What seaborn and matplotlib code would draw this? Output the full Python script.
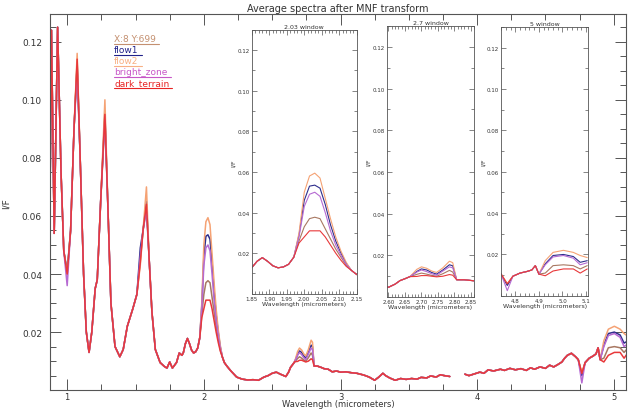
import numpy as np
import pandas as pd
import matplotlib.pyplot as plt
import seaborn as sns
from matplotlib.ticker import MultipleLocator

sns.set_style('ticks')
plt.rcParams['font.family'] = ['DejaVu Sans']

# --- series ---
series_names = ['X:8 Y:699', 'flow1', 'flow2', 'bright_zone', 'dark_terrain']
series_colors = ['#a87862', '#2e2e8c', '#f5a274', '#b66ad2', '#e8383a']
legend_colors = ['#c49070', '#22228a', '#f8b084', '#c858c8', '#e82424']

# wavelengths (micrometers) where all five average spectra coincide
wl_common = [0.876, 0.885, 0.905, 0.930, 0.955, 0.975, 1.025, 1.050, 1.095, 1.120,
             1.140, 1.160, 1.180, 1.205, 1.220, 1.245, 1.300, 1.320, 1.350, 1.385,
             1.410, 1.440, 1.480, 1.510, 1.555, 1.600, 1.620, 1.645, 1.680, 1.710,
             1.730, 1.750, 1.770, 1.800, 1.820, 1.840, 1.850, 1.865, 1.880, 1.895,
             1.910, 1.925, 1.940, 1.955, 1.970, 2.135, 2.150, 2.170, 2.200, 2.240,
             2.280, 2.320, 2.360, 2.400, 2.440, 2.470, 2.500, 2.530, 2.560, 2.600,
             2.620, 2.635, 2.650, 2.665, 2.807, 2.830, 2.860, 2.880, 2.910, 2.940,
             2.970, 3.000, 3.040, 3.080, 3.120, 3.170, 3.210, 3.250, 3.280, 3.310,
             3.330, 3.360, 3.400, 3.440, 3.480, 3.520, 3.560, 3.590, 3.630, 3.660,
             3.700, 3.730, 3.760, 3.800, 3.910, 3.940, 3.980, 4.020, 4.050, 4.080,
             4.120, 4.170, 4.200, 4.240, 4.280, 4.320, 4.360, 4.390, 4.420, 4.460,
             4.500, 4.530, 4.560, 4.590, 4.620, 4.640, 4.660, 4.690, 4.720, 4.740,
             4.790, 4.820, 4.850, 4.870, 4.885, 4.900]
if_common = [0.075, 0.124, 0.054, 0.125, 0.075, 0.048, 0.055, 0.090, 0.080, 0.040,
             0.020, 0.013, 0.020, 0.035, 0.038, 0.065, 0.060, 0.030, 0.015, 0.0115,
             0.014, 0.022, 0.028, 0.033, 0.055, 0.045, 0.027, 0.014, 0.0095, 0.0082,
             0.0076, 0.0097, 0.0076, 0.0095, 0.0128, 0.0120, 0.0129, 0.0160, 0.0178, 0.0160,
             0.0138, 0.0128, 0.0132, 0.0145, 0.0180, 0.0115, 0.0095, 0.0082, 0.0065, 0.0045,
             0.0038, 0.0035, 0.0036, 0.0034, 0.0045, 0.0050, 0.0058, 0.0062, 0.0055, 0.0047,
             0.0062, 0.0079, 0.0088, 0.0098, 0.0083, 0.0083, 0.0078, 0.0074, 0.0072, 0.0063,
             0.0066, 0.0062, 0.0063, 0.0060, 0.0058, 0.0052, 0.0045, 0.0034, 0.0045, 0.0058,
             0.0050, 0.0042, 0.0034, 0.0040, 0.0037, 0.0040, 0.0038, 0.0044, 0.0042, 0.0049,
             0.0045, 0.0053, 0.0050, 0.0047, 0.0055, 0.0050, 0.0056, 0.0062, 0.0058, 0.0070,
             0.0066, 0.0072, 0.0068, 0.0075, 0.0070, 0.0074, 0.0068, 0.0077, 0.0072, 0.0080,
             0.0075, 0.0086, 0.0080, 0.0088, 0.0097, 0.0110, 0.0120, 0.0127, 0.0115, 0.0105,
             0.0095, 0.0110, 0.0118, 0.0125, 0.0146, 0.0105]

# wavelengths where the spectra split apart (1-1.6 peaks, 2.03, 2.7 and 5 windows)
wl_split = [1.000, 1.073, 1.276, 1.535, 1.580,
            1.985, 2.000, 2.015, 2.030, 2.045, 2.060, 2.075, 2.090, 2.105, 2.120,
            2.686, 2.700, 2.716, 2.731, 2.746, 2.765, 2.785, 2.795,
            4.766, 4.927, 4.960, 5.004, 5.046, 5.075, 5.105]
if_xy = [0.040, 0.113, 0.094, 0.045, 0.063,
         0.026, 0.033, 0.037, 0.0377, 0.037, 0.032, 0.027, 0.022, 0.018, 0.014,
         0.0109, 0.0115, 0.0110, 0.0104, 0.0100, 0.0112, 0.0128, 0.0120,
         0.0055, 0.0110, 0.0146, 0.0150, 0.0146, 0.0130, 0.0146]
if_flow1 = [0.041, 0.112, 0.096, 0.049, 0.065,
            0.029, 0.046, 0.053, 0.0535, 0.052, 0.044, 0.034, 0.026, 0.020, 0.015,
            0.0123, 0.0135, 0.0130, 0.0118, 0.0110, 0.0130, 0.0155, 0.0150,
            0.0050, 0.0155, 0.0195, 0.0200, 0.0190, 0.0162, 0.0170]
if_flow2 = [0.040, 0.116, 0.100, 0.043, 0.070,
            0.030, 0.050, 0.058, 0.0594, 0.057, 0.047, 0.037, 0.028, 0.021, 0.0155,
            0.0133, 0.0145, 0.0138, 0.0125, 0.0118, 0.0140, 0.0172, 0.0165,
            0.0060, 0.0170, 0.0210, 0.0220, 0.0210, 0.0195, 0.0185]
if_bright = [0.036, 0.110, 0.093, 0.046, 0.062,
             0.028, 0.043, 0.049, 0.050, 0.048, 0.040, 0.031, 0.024, 0.019, 0.0145,
             0.0120, 0.0130, 0.0122, 0.0112, 0.0105, 0.0125, 0.0145, 0.0140,
             0.0025, 0.0150, 0.0188, 0.0195, 0.0182, 0.0150, 0.0160]
if_dark = [0.040, 0.114, 0.095, 0.044, 0.064,
           0.025, 0.028, 0.031, 0.031, 0.031, 0.028, 0.024, 0.020, 0.0165, 0.0135,
           0.0099, 0.0103, 0.0103, 0.0100, 0.0097, 0.0100, 0.0108, 0.0105,
           0.0058, 0.0097, 0.0120, 0.0130, 0.0130, 0.0110, 0.0130]

# --- long table ---
frames = []
for name, vals in zip(series_names, [if_xy, if_flow1, if_flow2, if_bright, if_dark]):
    frames.append(pd.DataFrame({'wavelength': wl_common + wl_split,
                                'IF': if_common + vals,
                                'series': name}))
df = pd.concat(frames, ignore_index=True)
# no data between 3.8 and 3.9 um -> two separate line pieces
df['segment'] = (df['wavelength'] > 3.85).astype(int)

palette = dict(zip(series_names, series_colors))


def draw_spectra(ax, lw):
    sns.lineplot(data=df, x='wavelength', y='IF', hue='series', hue_order=series_names,
                 units='segment', estimator=None, palette=palette, legend=False,
                 linewidth=lw, ax=ax)


spine_col = '#555555'
label_col = '#333333'

fig = plt.figure(figsize=(6.28, 4.10), dpi=100)

# --- main panel ---
ax = fig.add_axes([0.080, 0.046, 0.917, 0.917])
draw_spectra(ax, 1.1)
ax.set_xlim(0.876, 5.09)
ax.set_ylim(0, 0.1295)
ax.set_xticks([1, 2, 3, 4, 5])
ax.xaxis.set_minor_locator(MultipleLocator(0.25))
ax.set_yticks([0.02, 0.04, 0.06, 0.08, 0.10, 0.12])
ax.yaxis.set_minor_locator(MultipleLocator(0.005))
ax.tick_params(which='both', direction='in', top=True, right=True, colors=spine_col,
               labelcolor=label_col, labelsize=6.5, width=0.7)
ax.tick_params(which='major', length=8)
ax.tick_params(which='minor', length=4)
ax.tick_params(axis='y', pad=6)
ax.tick_params(axis='x', pad=1, labelsize=6)
for s in ax.spines.values():
    s.set_color(spine_col)
    s.set_linewidth(0.8)
ax.set_xlabel('Wavelength (micrometers)', fontsize=6, color=label_col, labelpad=-1)
ax.set_ylabel('I/F', fontsize=6.5, color=label_col, labelpad=8)
ax.set_title('Average spectra after MNF transform', fontsize=7, color=label_col, pad=2)

# legend: coloured names with an underline
legend_texts = []
for i, (name, col) in enumerate(zip(series_names, legend_colors)):
    t = ax.text(0.111, 0.936 - i * 0.0293, name, transform=ax.transAxes,
                color=col, fontsize=6.5, va='center', ha='left')
    legend_texts.append(t)

# --- insets ---
insets = [
    ('2.03 window', [0.401, 0.281, 0.167, 0.644], (1.85, 2.15),
     [1.85, 1.90, 1.95, 2.00, 2.05, 2.10, 2.15], '{:.2f}', 0.01),
    ('2.7 window', [0.616, 0.273, 0.139, 0.661], (2.595, 2.86),
     [2.60, 2.65, 2.70, 2.75, 2.80, 2.85], '{:.2f}', 0.01),
    ('5 window', [0.798, 0.276, 0.139, 0.656], (4.74, 5.11),
     [4.8, 4.9, 5.0, 5.1], '{:.1f}', 0.02),
]
for title, rect, xlim, xticks, fmt, minor in insets:
    iax = fig.add_axes(rect)
    iax.set_facecolor('white')
    draw_spectra(iax, 0.8)
    iax.set_xlim(*xlim)
    iax.set_ylim(0, 0.13)
    iax.set_xticks(xticks)
    iax.set_xticklabels([fmt.format(v) for v in xticks])
    iax.xaxis.set_minor_locator(MultipleLocator(minor))
    iax.set_yticks([0.02, 0.04, 0.06, 0.08, 0.10, 0.12])
    iax.yaxis.set_minor_locator(MultipleLocator(0.01))
    iax.tick_params(which='both', direction='in', top=True, right=True, colors=spine_col,
                    labelcolor=label_col, labelsize=4, width=0.5, pad=1.5)
    iax.tick_params(which='major', length=3.5)
    iax.tick_params(which='minor', length=2)
    for s in iax.spines.values():
        s.set_color(spine_col)
        s.set_linewidth(0.6)
    iax.set_title(title, fontsize=4.5, color=label_col, pad=1.5)
    iax.set_xlabel('Wavelength (micrometers)', fontsize=4.5, color=label_col, labelpad=0)
    iax.set_ylabel('I/F', fontsize=4.5, color=label_col, labelpad=1)

# underline legend entries
fig.canvas.draw()
inv = ax.transAxes.inverted()
for t, col in zip(legend_texts, legend_colors):
    bb = t.get_window_extent()
    (x0, y0), (x1, _) = inv.transform([(bb.x0, bb.y0 - 1), (bb.x1 + 3, bb.y0)])
    ax.plot([x0, x1], [y0, y0], transform=ax.transAxes, color=col, lw=0.8)

fig.savefig('out.png', dpi=100)
